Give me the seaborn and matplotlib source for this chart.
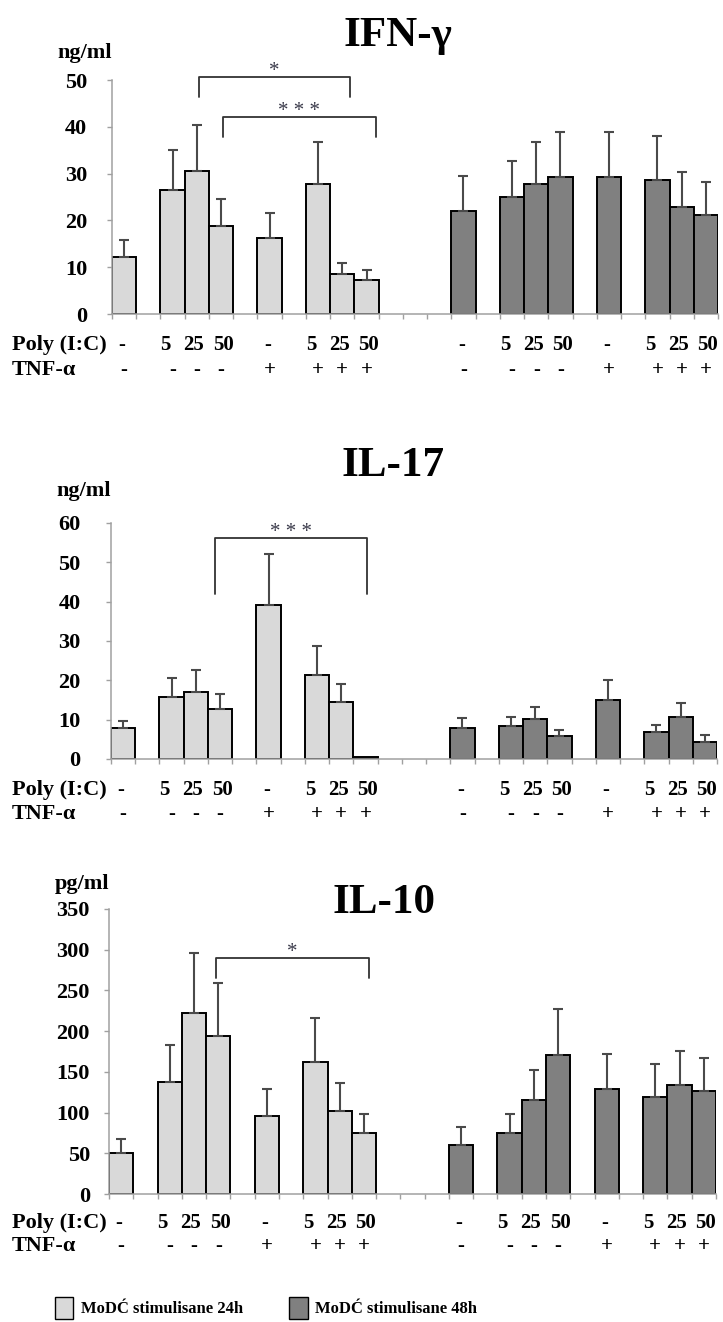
import numpy as np
import pandas as pd
import matplotlib
matplotlib.use("Agg")
import matplotlib.pyplot as plt
import matplotlib.transforms as mtransforms
from matplotlib.patches import Patch
import seaborn as sns

# ---- stimulation conditions (same for all panels) ----
poly_ic = ["-", "5", "25", "50", "-", "5", "25", "50"]
tnf_a = ["-", "-", "-", "-", "+", "+", "+", "+"]
times = ["MoDĆ stimulisane 24h", "MoDĆ stimulisane 48h"]

# ---- IFN-γ (ng/ml): mean and SD ----
ifn_24h = [12.2, 26.5, 30.6, 18.7, 16.3, 27.8, 8.5, 7.3]
ifn_24h_sd = [3.7, 8.5, 9.8, 5.8, 5.3, 8.9, 2.5, 2.1]
ifn_48h = [22.0, 24.9, 27.8, 29.3, 29.3, 28.6, 22.8, 21.2]
ifn_48h_sd = [7.5, 7.8, 9.0, 9.5, 9.5, 9.4, 7.5, 7.0]

# ---- IL-17 (ng/ml) ----
il17_24h = [7.8, 15.7, 17.0, 12.7, 39.1, 21.4, 14.6, 0.5]
il17_24h_sd = [1.9, 4.8, 5.5, 3.9, 13.1, 7.4, 4.5, 0.0]
il17_48h = [7.8, 8.3, 10.2, 5.9, 15.1, 6.9, 10.8, 4.4]
il17_48h_sd = [2.5, 2.5, 3.0, 1.5, 5.1, 1.8, 3.4, 1.6]

# ---- IL-10 (pg/ml) ----
il10_24h = [50.7, 137.9, 222.7, 194.4, 95.8, 161.7, 102.3, 74.5]
il10_24h_sd = [16.5, 45.1, 72.9, 64.3, 32.8, 54.1, 33.6, 23.7]
il10_48h = [60.2, 74.5, 115.4, 171.1, 128.6, 119.5, 133.5, 126.5]
il10_48h_sd = [21.7, 23.7, 36.9, 56.5, 43.0, 40.1, 42.5, 40.1]

# slot layout on the shared categorical axis (gaps are empty slots)
n_slots = 25
slots_24h = [0, 2, 3, 4, 6, 8, 9, 10]
slots_48h = [14, 16, 17, 18, 20, 22, 23, 24]
# small horizontal nudges (pixels) for the dose labels
poly_nudge = {"-": -2, "5": -7, "25": -3, "50": 2}

LIGHT = "#d9d9d9"
DARK = "#808080"
SPINE = "#a0a0a0"
FONT = "Liberation Serif"

sns.set_theme(style="white")
plt.rcParams["font.family"] = [FONT, "DejaVu Serif"]
plt.rcParams["font.weight"] = "bold"
for key in ["text.color", "axes.labelcolor", "xtick.color", "ytick.color"]:
    plt.rcParams[key] = "black"

W, H = 723, 1322
fig = plt.figure(figsize=(W / 100, H / 100), dpi=100)

panels = [
    dict(title="IFN-γ", unit="ng/ml", m24=ifn_24h, s24=ifn_24h_sd, m48=ifn_48h, s48=ifn_48h_sd,
         ymax=50, ystep=10, box=(112, 80, 718, 314), title_xy=(398, 46), unit_y=58, pad=14,
         brackets=[(3.1, 9.3, 50.7, 46.4, "*"), (4.07, 10.4, 42.2, 37.9, "* * *")],
         rows=(-31, -56)),
    dict(title="IL-17", unit="ng/ml", m24=il17_24h, s24=il17_24h_sd, m48=il17_48h, s48=il17_48h_sd,
         ymax=60, ystep=10, box=(111, 523, 717, 759), title_xy=(393, 476), unit_y=496, pad=18,
         brackets=[(3.79, 10.07, 56.2, 42.0, "* * *")],
         rows=(-31, -55)),
    dict(title="IL-10", unit="pg/ml", m24=il10_24h, s24=il10_24h_sd, m48=il10_48h, s48=il10_48h_sd,
         ymax=350, ystep=50, box=(109, 909, 716, 1194), title_xy=(384, 913), unit_y=889, pad=10,
         brackets=[(3.91, 10.21, 289.4, 265.0, "*")],
         rows=(-29, -52)),
]

order = [str(i) for i in range(n_slots)]

for p in panels:
    x0, y0, x1, y1 = p["box"]
    ax = fig.add_axes([x0 / W, 1 - y1 / H, (x1 - x0) / W, (y1 - y0) / H])

    df = pd.DataFrame({
        "slot": [str(s) for s in slots_24h + slots_48h],
        "value": list(p["m24"]) + list(p["m48"]),
        "time": [times[0]] * 8 + [times[1]] * 8,
    })
    sns.barplot(data=df, x="slot", y="value", hue="time", order=order, hue_order=times,
                palette=[LIGHT, DARK], saturation=1, dodge=False, width=1.0,
                edgecolor="black", linewidth=1.4, errorbar=None, legend=False, ax=ax)

    # upper-only error bars
    for slots, means, sds in [(slots_24h, p["m24"], p["s24"]), (slots_48h, p["m48"], p["s48"])]:
        xs = [s for s, e in zip(slots, sds) if e > 0]
        ys = [m for m, e in zip(means, sds) if e > 0]
        es = [e for e in sds if e > 0]
        _, caps, _ = ax.errorbar(xs, ys, yerr=[np.zeros(len(es)), es], fmt="none",
                                 ecolor="#4a4a4a", elinewidth=1.5, capsize=3.6, capthick=1.5,
                                 zorder=3)
        for c in caps:
            c.set_color("#111111")

    ax.set_xlim(-0.5, n_slots - 0.5)
    ax.set_ylim(0, p["ymax"])
    ax.set_xlabel("")
    ax.set_ylabel("")
    ax.set_xticks(np.arange(-0.5, n_slots, 1.0))
    ax.set_xticklabels([])
    ax.set_yticks(np.arange(0, p["ymax"] + 1, p["ystep"]))
    ax.set_yticklabels([str(int(v)) for v in np.arange(0, p["ymax"] + 1, p["ystep"])],
                       fontsize=16, fontweight="bold", color="black")
    ax.tick_params(axis="x", length=3.8, width=1.0, color=SPINE, direction="out", bottom=True)
    ax.tick_params(axis="y", length=3.8, width=1.0, color=SPINE, direction="out", left=True,
                   pad=p["pad"])
    for side in ["top", "right"]:
        ax.spines[side].set_visible(False)
    for side in ["left", "bottom"]:
        ax.spines[side].set_color(SPINE)
        ax.spines[side].set_linewidth(1.1)
    ax.patch.set_alpha(0)

    # condition rows under the axis
    xdata_yaxes = mtransforms.blended_transform_factory(ax.transData, ax.transAxes)
    xfig_yaxes = mtransforms.blended_transform_factory(fig.transFigure, ax.transAxes)
    r1, r2 = p["rows"]
    for slots in (slots_24h, slots_48h):
        for s, pl, tn in zip(slots, poly_ic, tnf_a):
            ax.annotate(pl, xy=(s, 0), xycoords=xdata_yaxes, xytext=(poly_nudge[pl], r1),
                        textcoords="offset pixels", ha="center", va="center",
                        fontsize=15, fontweight="bold", annotation_clip=False)
            ax.annotate(tn, xy=(s, 0), xycoords=xdata_yaxes, xytext=(0, r2),
                        textcoords="offset pixels", ha="center", va="center",
                        fontsize=15, fontweight="bold", annotation_clip=False)
    for lab, off in (("Poly (I:C)", r1), ("TNF-α", r2)):
        ax.annotate(lab, xy=(12 / W, 0), xycoords=xfig_yaxes, xytext=(0, off),
                    textcoords="offset pixels", ha="left", va="center",
                    fontsize=16, fontweight="bold", annotation_clip=False)

    # significance brackets
    for xl, xr, ytop, yleg, star in p["brackets"]:
        ax.plot([xl, xl, xr, xr], [yleg, ytop, ytop, yleg], color="#333333", lw=1.3,
                clip_on=False, zorder=4)
        ax.annotate(star, xy=((xl + xr) / 2, ytop), xycoords="data", xytext=(0, 1),
                    textcoords="offset pixels", ha="center", va="baseline",
                    fontsize=15, fontweight="normal", color="#3a3a4a",
                    annotation_clip=False)

    # panel title and unit label
    tx, ty = p["title_xy"]
    fig.text(tx / W, 1 - ty / H, p["title"], ha="center", va="baseline",
             fontsize=31, fontweight="bold")
    fig.text(x0 / W, 1 - p["unit_y"] / H, p["unit"], ha="right", va="baseline",
             fontsize=16, fontweight="bold")

handles = [Patch(facecolor=LIGHT, edgecolor="black", linewidth=1.0),
           Patch(facecolor=DARK, edgecolor="black", linewidth=1.0)]
fig.legend(handles=handles, labels=times, loc="center",
           bbox_to_anchor=(266 / W, 1 - 1308 / H), ncol=2, frameon=False,
           prop={"family": FONT, "weight": "bold", "size": 12},
           handlelength=1.1, handleheight=1.7, handletextpad=0.45,
           columnspacing=2.8, borderpad=0, borderaxespad=0)

fig.savefig("out.png", dpi=100)
